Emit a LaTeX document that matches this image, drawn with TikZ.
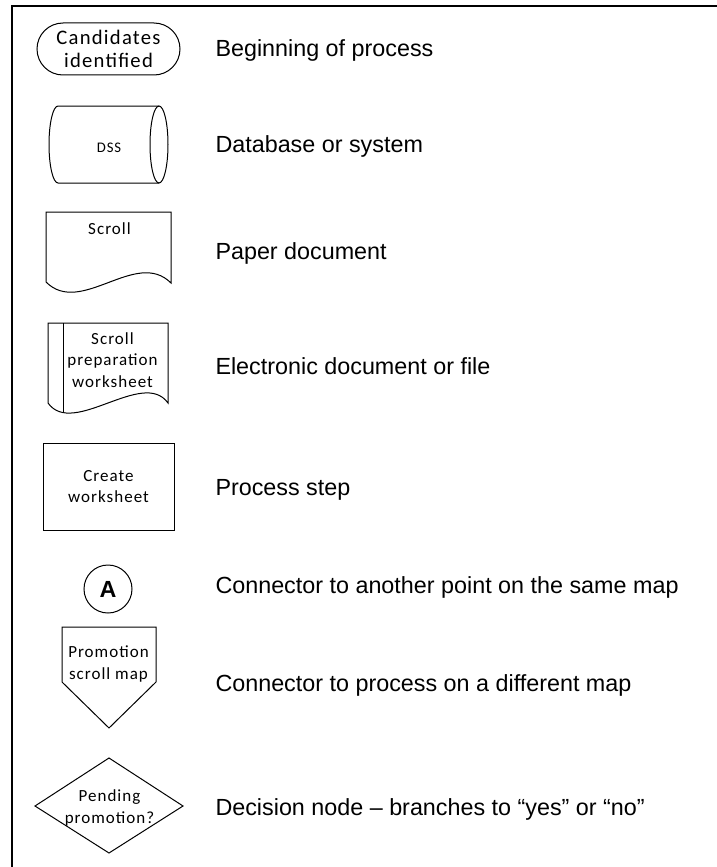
\documentclass[tikz,border=0pt]{standalone}
\usepackage{fontspec}
\setmainfont{Liberation Sans}
\newfontfamily\shapefont[LetterSpace=6]{Carlito}
\usetikzlibrary{shapes.geometric}

\begin{document}
\begin{tikzpicture}[x=0.75pt,y=-0.75pt,line width=0.75pt]
   \tikzstyle{symbol}=[draw,align=center,inner sep=0pt,font=\shapefont\fontsize{12.75}{16}\selectfont]
   \tikzstyle{symtext}=[align=center,inner sep=0pt,font=\shapefont\fontsize{12.75}{16}\selectfont]
   \tikzstyle{desc}=[anchor=base west,inner sep=0pt,font=\fontsize{17.5}{21}\selectfont]

   \useasboundingbox (0,0) rectangle (717,867);
   \draw[line width=1.5pt] (12,867) -- (12,6) -- (717,6);

   % symbols
   \node[symbol,rounded corners=19.5pt,minimum width=107.25pt,minimum height=39pt,
         font=\shapefont\fontsize{15.5}{17.25}\selectfont] (start) at (108.5,49) {Candidates\\identified};

   \draw (159,144.5) ellipse[x radius=9,y radius=38.5];
   \draw (159,106) -- (58,106) arc[start angle=270,end angle=90,x radius=9,y radius=38.5] -- (159,183);
   \node[symtext,font=\shapefont\fontsize{11}{13}\selectfont] (dss) at (109,147.5) {DSS};

   \draw (46,282) -- (46,212) -- (171,212) -- (171,283) .. controls (136,248) and (81,317) .. (46,282);
   \node[symtext] (paper) at (109.5,229) {Scroll};

   \draw (48,403) -- (48,323) -- (168,323) -- (168,403) .. controls (143,368) and (73,438) .. (48,403);
   \draw (63,323) -- (63,412);
   \node[symtext] (efile) at (112.5,360) {Scroll\\preparation\\worksheet};

   \node[symbol,minimum width=98.25pt,minimum height=65.25pt] (proc) at (108.5,486.5) {Create\\worksheet};

   \node[symbol,circle,minimum size=36pt,font=\bfseries\fontsize{17.5}{20}\selectfont] (conA) at (108,589) {A};

   \draw (62,627) -- (156,627) -- (156,682) -- (109,728) -- (62,682) -- cycle;
   \node[symtext] (offpage) at (108.5,664) {Promotion\\scroll map};

   \draw (109,758) -- (183,806) -- (109,853) -- (35,806) -- cycle;
   \node[symtext] (decide) at (109.5,808) {Pending\\promotion?};

   % descriptions
   \node[desc] (dstart)   at (215,57)  {Beginning of process};
   \node[desc] (ddss)     at (215,152) {Database or system};
   \node[desc] (dpaper)   at (215,259) {Paper document};
   \node[desc] (defile)   at (215,374) {Electronic document or file};
   \node[desc] (dproc)    at (215,495) {Process step};
   \node[desc] (dconA)    at (215,593) {Connector to another point on the same map};
   \node[desc] (doffpage) at (215,691) {Connector to process on a different map};
   \node[desc] (ddecide)  at (215,815) {Decision node – branches to “yes” or “no”};
\end{tikzpicture}
\end{document}
